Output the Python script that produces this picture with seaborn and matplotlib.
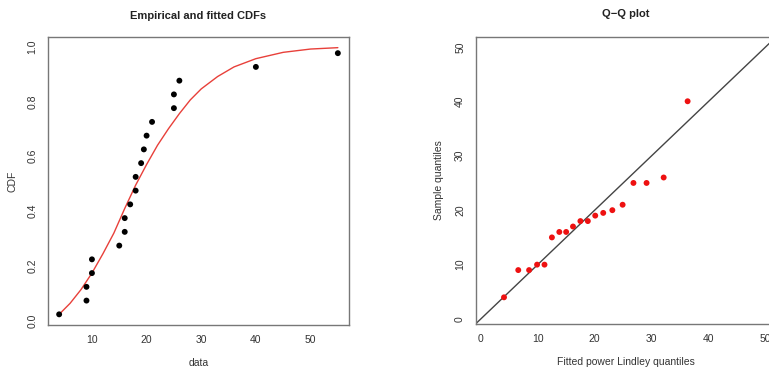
import matplotlib
matplotlib.use("Agg")
import matplotlib.pyplot as plt
import pandas as pd
import seaborn as sns

# sorted sample and empirical CDF positions
sample = [4, 9, 9, 10, 10, 15, 16, 16, 17, 18, 18, 19, 19.5, 20, 21, 25, 25, 26, 40, 55]
ecdf = [0.025, 0.075, 0.125, 0.175, 0.225, 0.275, 0.325, 0.375, 0.425, 0.475,
        0.525, 0.575, 0.625, 0.675, 0.725, 0.775, 0.825, 0.875, 0.925, 0.975]

# fitted CDF curve
curve_x = [4, 6, 8, 10, 12, 14, 16, 18, 20, 22, 24, 26, 28, 30, 33, 36, 40, 45, 50, 55]
curve_y = [0.025, 0.065, 0.115, 0.175, 0.245, 0.32, 0.41, 0.495, 0.57, 0.64,
           0.70, 0.755, 0.805, 0.845, 0.89, 0.925, 0.955, 0.978, 0.99, 0.995]

# fitted power Lindley quantiles (last one falls outside the plot)
theo_q = [4.1, 6.6, 8.5, 9.9, 11.2, 12.5, 13.8, 15.0, 16.2, 17.5,
          18.8, 20.1, 21.5, 23.1, 24.9, 26.8, 29.1, 32.1, 36.3, 45.0]

FIG_W, FIG_H = 769, 370
BOX = "#777777"
TXT = "#333333"


def px_axes(fig, left, top, right, bottom):
    return fig.add_axes([left / FIG_W, 1 - bottom / FIG_H,
                         (right - left) / FIG_W, (bottom - top) / FIG_H])


def r_style(ax):
    for side in ax.spines.values():
        side.set_color(BOX)
        side.set_linewidth(1.0)
    ax.tick_params(colors=BOX, labelcolor=TXT, labelsize=7.5, length=4, width=0.9,
                   direction="out")
    for lab in ax.get_yticklabels():
        lab.set_rotation(90)
        lab.set_va("center")
    ax.grid(False)


sns.set_theme(style="white")
plt.rcParams["font.family"] = ["Liberation Sans", "DejaVu Sans"]

fig = plt.figure(figsize=(FIG_W / 100, FIG_H / 100), dpi=100)
fig.patch.set_facecolor("white")

# left: empirical and fitted CDFs
ax1 = px_axes(fig, 48, 37, 349, 325)
df_pts = pd.DataFrame({"x": sample, "y": ecdf})
df_curve = pd.DataFrame({"x": curve_x, "y": curve_y})
sns.lineplot(data=df_curve, x="x", y="y", ax=ax1, color="#e8403a", linewidth=1.0,
             zorder=2)
sns.scatterplot(data=df_pts, x="x", y="y", ax=ax1, color="black", s=18,
                edgecolor="none", zorder=3)
ax1.set_xlim(1.96, 57.04)
ax1.set_ylim(-0.0138, 1.0338)
ax1.set_xticks([10, 20, 30, 40, 50])
ax1.set_yticks([0.0, 0.2, 0.4, 0.6, 0.8, 1.0])
ax1.set_yticklabels(["0.0", "0.2", "0.4", "0.6", "0.8", "1.0"])
ax1.set_xlabel("data", fontsize=7.5, color=TXT, labelpad=9)
ax1.set_ylabel("CDF", fontsize=7.5, color=TXT, labelpad=7)
ax1.set_title("Empirical and fitted CDFs", fontsize=8, fontweight="bold",
              color="#222222", pad=13)
r_style(ax1)

# right: Q-Q plot
ax2 = px_axes(fig, 475.5, 37, 776, 324)
df_qq = pd.DataFrame({"theo": theo_q, "sample": sample})
ax2.axline((0, 0), slope=1, color="#444444", linewidth=1.0, zorder=2)
sns.scatterplot(data=df_qq, x="theo", y="sample", ax=ax2, color="#ee1111", s=18,
                edgecolor="none", zorder=3)
ax2.set_xlim(-0.9, 51.8)
ax2.set_ylim(-0.9, 51.8)
ax2.set_xticks([0, 10, 20, 30, 40, 50])
ax2.set_yticks([0, 10, 20, 30, 40, 50])
ax2.set_xlabel("Fitted power Lindley quantiles", fontsize=7.5, color=TXT, labelpad=9)
ax2.set_ylabel("Sample quantiles", fontsize=7.5, color=TXT, labelpad=8)
r_style(ax2)
fig.text(626 / FIG_W, 1 - 14 / FIG_H, "Q\u2212Q plot", fontsize=8,
         fontweight="bold", color="#222222", ha="center", va="center")

fig.savefig("out.png", dpi=100)
